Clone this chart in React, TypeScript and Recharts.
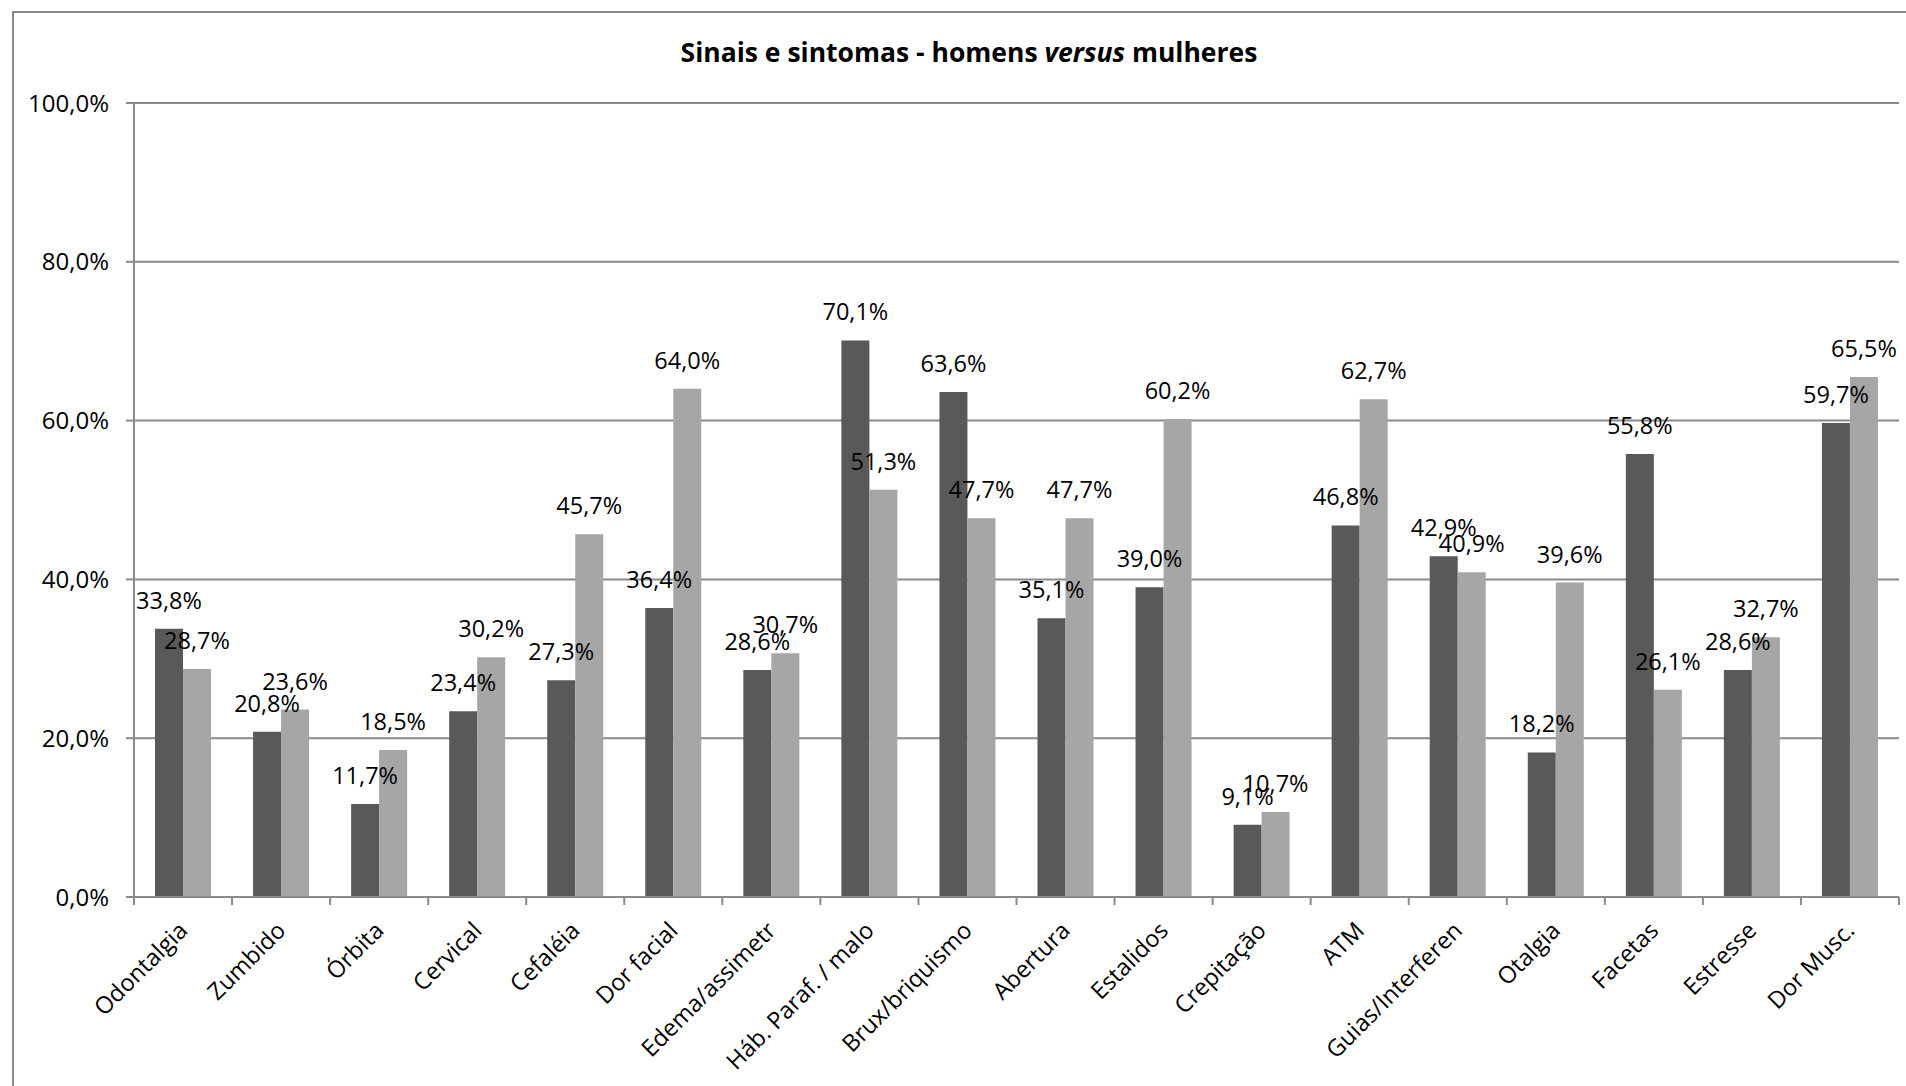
import React from "react";
import { BarChart, Bar, XAxis, YAxis, CartesianGrid, LabelList } from "recharts";

const categories = [
  "Odontalgia",
  "Zumbido",
  "Órbita",
  "Cervical",
  "Cefaléia",
  "Dor facial",
  "Edema/assimetr",
  "Háb. Paraf. / malo",
  "Brux/briquismo",
  "Abertura",
  "Estalidos",
  "Crepitação",
  "ATM",
  "Guias/Interferen",
  "Otalgia",
  "Facetas",
  "Estresse",
  "Dor Musc.",
];

const homens = [33.8, 20.8, 11.7, 23.4, 27.3, 36.4, 28.6, 70.1, 63.6, 35.1, 39.0, 9.1, 46.8, 42.9, 18.2, 55.8, 28.6, 59.7];
const mulheres = [28.7, 23.6, 18.5, 30.2, 45.7, 64.0, 30.7, 51.3, 47.7, 47.7, 60.2, 10.7, 62.7, 40.9, 39.6, 26.1, 32.7, 65.5];

const yTicks = [0, 20, 40, 60, 80, 100];

const W = 1906;
const H = 1086;
const PLOT_LEFT = 134;
const PLOT_RIGHT = 7;
const PLOT_TOP = 103;
const AXIS_H = 189;
const FONT = "'Open Sans', sans-serif";
const GRID = "#8a8a8a";

const data = categories.map((name, i) => ({ name, homens: homens[i], mulheres: mulheres[i] }));

const pct = (v: number) => `${v.toFixed(1).replace(".", ",")}%`;

const band = (W - PLOT_LEFT - PLOT_RIGHT) / categories.length;

// category names sit rotated under the axis, tick marks between categories
function CategoryTick(props: any) {
  const { x, y, payload, index } = props;
  const off = payload?.offset ?? band / 2;
  const tx = x + 6;
  const ty = y + 35;
  return (
    <g>
      <line x1={x - off} y1={y} x2={x - off} y2={y + 8} stroke={GRID} strokeWidth={2} />
      {index === categories.length - 1 && (
        <line x1={x + off} y1={y} x2={x + off} y2={y + 8} stroke={GRID} strokeWidth={2} />
      )}
      <text
        x={tx}
        y={ty}
        textAnchor="end"
        transform={`rotate(-45, ${tx}, ${ty})`}
        fontFamily={FONT}
        fontSize={23.5}
        fill="#000"
      >
        {payload.value}
      </text>
    </g>
  );
}

function ValueLabel(props: any) {
  const { x, y, width, value } = props;
  return (
    <text x={x + width / 2} y={y - 20} textAnchor="middle" fontFamily={FONT} fontSize={23.5} fill="#000">
      {pct(value)}
    </text>
  );
}

export default function App() {
  return (
    <div
      style={{
        position: "fixed",
        left: 0,
        top: 0,
        width: W,
        height: H,
        overflow: "hidden",
        background: "#fff",
      }}
    >
      <div
        style={{
          position: "absolute",
          left: 12,
          top: 11,
          width: 2200,
          height: 1400,
          border: `2px solid ${GRID}`,
        }}
      />
      <div
        style={{
          position: "absolute",
          left: 569,
          width: 800,
          top: 33,
          textAlign: "center",
          fontFamily: FONT,
          fontWeight: 700,
          fontSize: 26.5,
          lineHeight: "38px",
          color: "#000",
        }}
      >
        Sinais e sintomas - homens <i>versus</i> mulheres
      </div>
      <div style={{ position: "absolute", left: 0, top: 0 }}>
        <BarChart
          width={W}
          height={H}
          data={data}
          margin={{ top: PLOT_TOP, right: PLOT_RIGHT, bottom: 0, left: 0 }}
          barCategoryGap={21}
          barGap={0}
        >
          <CartesianGrid vertical={false} stroke={GRID} strokeWidth={2} />
          <XAxis
            dataKey="name"
            interval={0}
            height={AXIS_H}
            axisLine={{ stroke: GRID, strokeWidth: 2 }}
            tickLine={false}
            tickSize={0}
            tickMargin={0}
            tick={<CategoryTick />}
          />
          <YAxis
            width={PLOT_LEFT}
            domain={[0, 100]}
            ticks={yTicks}
            tickFormatter={pct}
            axisLine={{ stroke: GRID, strokeWidth: 2 }}
            tickLine={{ stroke: GRID, strokeWidth: 2 }}
            tickSize={8}
            tickMargin={17}
            tick={{ fill: "#000", fontSize: 24, fontFamily: FONT }}
          />
          <Bar dataKey="homens" fill="#595959" isAnimationActive={false}>
            <LabelList dataKey="homens" content={<ValueLabel />} />
          </Bar>
          <Bar dataKey="mulheres" fill="#a6a6a6" isAnimationActive={false}>
            <LabelList dataKey="mulheres" content={<ValueLabel />} />
          </Bar>
        </BarChart>
      </div>
    </div>
  );
}
